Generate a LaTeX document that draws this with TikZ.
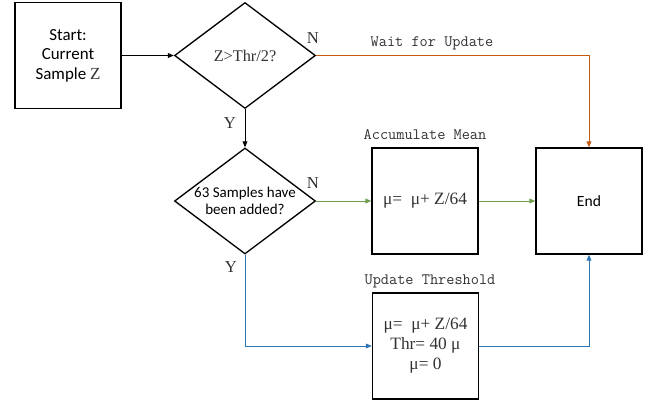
\documentclass[tikz,border=0pt]{standalone}
\usepackage{fontspec}
\setmainfont{Liberation Serif}
\newfontfamily\calib{Carlito}
\usetikzlibrary{shapes.geometric,arrows.meta}
\definecolor{orangeline}{RGB}{197,90,17}
\definecolor{greenline}{RGB}{112,158,78}
\definecolor{blueline}{RGB}{46,117,182}
\definecolor{txtgray}{RGB}{50,50,50}
\begin{document}
\begin{tikzpicture}[x=0.75pt,y=-0.75pt,
  box/.style={draw, line width=1pt, minimum width=79.5pt, minimum height=79.5pt, inner sep=0pt, align=center},
  dia/.style={draw, diamond, aspect=1.33, line width=1pt, minimum width=105.75pt, minimum height=79.5pt, inner sep=0pt, align=center},
  serif/.style={font=\rmfamily\fontsize{12.2}{15}\selectfont, text=txtgray},
  mathtxt/.style={font=\rmfamily\fontsize{13}{15}\selectfont, text=txtgray},
  sans/.style={font=\calib\fontsize{12.7}{14.6}\selectfont},
  lab/.style={font=\ttfamily\fontsize{11.9}{14}\selectfont, text=txtgray, inner sep=0pt},
  yn/.style={font=\rmfamily\fontsize{12.5}{13}\selectfont, text=txtgray, inner sep=0pt},
  arr/.style={line width=0.75pt, -{Triangle[length=4.5pt,width=3.6pt]}}
]
\useasboundingbox (0,0) rectangle (651,408);

\node[box, sans] (start) at (68,55.5) {Start:\\Current\\Sample {\rmfamily\color{txtgray}Z}};
\node[dia, serif] (d1) at (245,55.5) {Z>Thr/2?};
\node[dia, font=\calib\fontsize{11.25}{12.75}\selectfont] (d2) at (245,201) {63 Samples have\\been added?};
\node[box, mathtxt] (acc) at (425,201) {μ=\ \ μ+ Z/64};
\node[box, font=\calib\fontsize{11.7}{14}\selectfont] (end) at (589,201) {End};
\node[box, mathtxt] (upd) at (425.5,346) {μ=\ \ μ+ Z/64\\Thr= 40 μ\\μ= 0};

\node[lab] (lwait) at (432,43) {Wait for Update};
\node[lab] (lacc) at (425,135) {Accumulate Mean};
\node[lab] (lupd) at (430,281) {Update Threshold};
\node[yn] (n1) at (313,38) {N};
\node[yn] (n2) at (313,183) {N};
\node[yn] (y1) at (230,123) {Y};
\node[yn] (y2) at (231,267) {Y};

\draw[arr] (start.east) -- (d1.west);
\draw[arr] (d1.south) -- (d2.north);
\draw[arr, orangeline] (d1.east) -| (end.north);
\draw[arr, greenline] (d2.east) -- (acc.west);
\draw[arr, greenline] (acc.east) -- (end.west);
\draw[arr, blueline] (d2.south) |- (upd.west);
\draw[arr, blueline] (upd.east) -| (end.south);
\end{tikzpicture}
\end{document}
